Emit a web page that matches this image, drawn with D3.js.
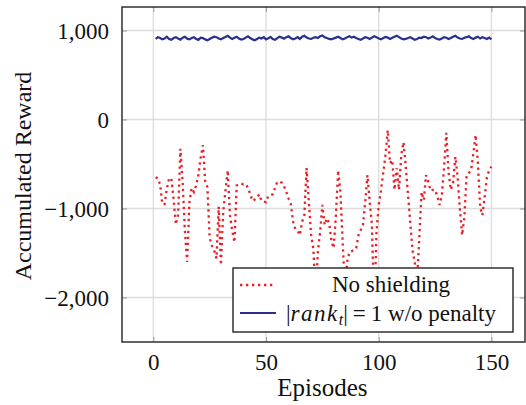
<!DOCTYPE html>
<html>
<head>
<meta charset="utf-8">
<script src="https://cdn.jsdelivr.net/npm/d3@7/dist/d3.min.js"></script>
<style>
  body { margin: 0; background: #fff; }
  svg { display: block; }
</style>
</head>
<body>
<svg id="chart" width="526" height="405"></svg>
<script>
// accumulated reward per episode
var noShielding = [
  -650, -660, -730, -950, -950, -780, -660, -660, -900, -1180,
  -1070, -330, -700, -1250, -1600, -930, -770, -815, -740, -620,
  -430, -290, -690, -760, -1330, -1420, -1470, -1560, -980, -1635,
  -1040, -800, -570, -1075, -1250, -1380, -740, -725, -720, -730,
  -725, -770, -840, -915, -900, -880, -840, -915, -920, -930,
  -860, -850, -840, -770, -700, -700, -710, -750, -815, -890,
  -950, -1150, -1230, -1250, -1300, -1150, -1075, -545, -930, -1300,
  -1450, -2000, -1490, -1260, -960, -1185, -1110, -1165, -1355, -1445,
  -1075, -570, -815, -1380, -1900, -1600, -1490, -1480, -1465, -1445,
  -1300, -1240, -1185, -930, -625, -930, -1185, -2190, -1265, -960,
  -800, -600, -400, -120, -490, -455, -790, -545, -790, -400,
  -255, -530, -850, -1160, -1470, -1610, -1800, -1330, -815, -905,
  -625, -700, -800, -790, -790, -860, -960, -850, -535, -150,
  -600, -790, -715, -420, -645, -1000, -1300, -1095, -625, -600,
  -570, -375, -175, -480, -985, -1075, -870, -650, -570, -530
];
var rankNoPenalty = [
  905, 925, 915, 900, 910, 930, 905, 895, 915, 925,
  910, 898, 920, 930, 908, 900, 915, 925, 905, 895,
  920, 915, 900, 890, 905, 918, 930, 925, 910, 900,
  915, 928, 940, 920, 905, 918, 930, 910, 898, 905,
  920, 935, 915, 900, 890, 905, 920, 910, 925, 900,
  912, 928, 905, 895, 915, 930, 920, 908, 925, 935,
  915, 900, 910, 925, 905, 930, 940, 920, 910, 905,
  918, 925, 915, 935, 945, 925, 915, 905, 900, 910,
  920, 930, 915, 900, 910, 925, 935, 920, 930, 915,
  905, 895, 910, 925, 918, 905, 920, 935, 925, 910,
  900, 915, 928, 920, 905, 918, 930, 940, 925, 910,
  900, 905, 915, 925, 910, 895, 905, 920, 915, 930,
  925, 910, 920, 935, 915, 905, 898, 910, 925, 918,
  905, 915, 930, 940, 920, 910, 905, 918, 925, 935,
  915, 905, 920, 930, 910, 925, 915, 905, 920, 900
];
var xTicks = [0, 50, 100, 150];
var yTicks = [-2000, -1000, 0, 1000];

var serif = "'Liberation Serif', 'DejaVu Serif', serif";
var pLeft = 122, pRight = 525, pTop = 7, pBottom = 342;
var svg = d3.select("#chart");

var x = d3.scaleLinear().domain([-13.9, 164.9]).range([pLeft, pRight]);
var y = d3.scaleLinear().domain([-2500, 1264]).range([pBottom, pTop]);

// grid
svg.selectAll("line.gx").data(xTicks).enter().append("line")
  .attr("x1", function(d) { return x(d); }).attr("x2", function(d) { return x(d); })
  .attr("y1", pTop).attr("y2", pBottom)
  .attr("stroke", "#dcdcdc").attr("stroke-width", 1.3);
svg.selectAll("line.gy").data(yTicks).enter().append("line")
  .attr("y1", function(d) { return y(d); }).attr("y2", function(d) { return y(d); })
  .attr("x1", pLeft).attr("x2", pRight)
  .attr("stroke", "#dcdcdc").attr("stroke-width", 1.3);

// axes with inner ticks, labels drawn by d3.axis
var fmt = d3.format(",");
var xAxis = svg.append("g").attr("transform", "translate(0," + pBottom + ")")
  .call(d3.axisBottom(x).tickValues(xTicks).tickSize(-5).tickPadding(12).tickFormat(fmt));
var xTop = svg.append("g").attr("transform", "translate(0," + pTop + ")")
  .call(d3.axisTop(x).tickValues(xTicks).tickSize(-5).tickFormat(""));
var yAxis = svg.append("g").attr("transform", "translate(" + pLeft + ",0)")
  .call(d3.axisLeft(y).tickValues(yTicks).tickSize(-5).tickPadding(13).tickFormat(fmt));
var yRight = svg.append("g").attr("transform", "translate(" + pRight + ",0)")
  .call(d3.axisRight(y).tickValues(yTicks).tickSize(-5).tickFormat(""));

[xAxis, xTop, yAxis, yRight].forEach(function(g) {
  g.attr("font-family", null).attr("font-size", null);
  g.select(".domain").remove();
  g.selectAll(".tick line").attr("stroke", "#999").attr("stroke-width", 1);
  g.selectAll(".tick text").attr("fill", "#111")
    .style("font-family", serif).style("font-size", "23px");
});
yAxis.selectAll(".tick text").attr("dy", "0.35em");

// lines
var line = d3.line()
  .x(function(d, i) { return x(i + 1); })
  .y(function(d) { return y(d); });

svg.append("path").datum(noShielding)
  .attr("d", line).attr("fill", "none")
  .attr("stroke", "#e8202a").attr("stroke-width", 2.3)
  .attr("stroke-dasharray", "2.3,3.7");

svg.append("path").datum(rankNoPenalty)
  .attr("d", line).attr("fill", "none")
  .attr("stroke", "#2a2e8e").attr("stroke-width", 2.2);

// frame
svg.append("rect")
  .attr("x", pLeft).attr("y", pTop)
  .attr("width", pRight - pLeft).attr("height", pBottom - pTop)
  .attr("fill", "none").attr("stroke", "#222").attr("stroke-width", 1.4);

// legend
var lg = svg.append("g");
lg.append("rect").attr("x", 233).attr("y", 268).attr("width", 280).attr("height", 64)
  .attr("fill", "#fff").attr("stroke", "#222").attr("stroke-width", 1.4);
lg.append("line").attr("x1", 240).attr("x2", 276).attr("y1", 285).attr("y2", 285)
  .attr("stroke", "#e8202a").attr("stroke-width", 2.3).attr("stroke-dasharray", "2.3,3.7");
lg.append("line").attr("x1", 240).attr("x2", 276).attr("y1", 313).attr("y2", 313)
  .attr("stroke", "#2a2e8e").attr("stroke-width", 2.2);
lg.append("text").attr("x", 391).attr("y", 292).attr("text-anchor", "middle")
  .attr("fill", "#111").style("font-family", serif).style("font-size", "23px")
  .text("No shielding");
var t2 = lg.append("text").attr("x", 391).attr("y", 321).attr("text-anchor", "middle")
  .attr("fill", "#111").style("font-family", serif).style("font-size", "23px");
t2.append("tspan").text("|");
t2.append("tspan").style("font-style", "italic").attr("letter-spacing", 1.5).text("rank");
t2.append("tspan").style("font-style", "italic").style("font-size", "16px").attr("dy", 4).text("t");
t2.append("tspan").attr("dy", -4).text("|");
t2.append("tspan").attr("dx", 5).text("=");
t2.append("tspan").attr("dx", 5).text("1 w/o penalty");

// axis titles
svg.append("text").attr("x", x(75)).attr("y", 396).attr("text-anchor", "middle")
  .attr("fill", "#111").style("font-family", serif).style("font-size", "25px")
  .text("Episodes");
svg.append("text").attr("transform", "translate(31,176) rotate(-90)")
  .attr("text-anchor", "middle").attr("fill", "#111")
  .style("font-family", serif).style("font-size", "24px")
  .text("Accumulated Reward");
</script>
</body>
</html>
